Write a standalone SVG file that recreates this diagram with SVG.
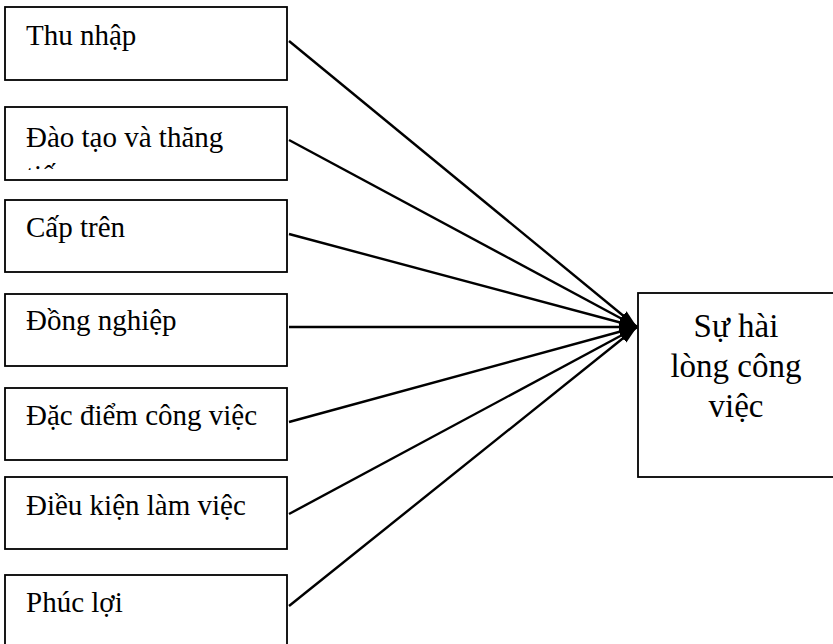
<svg xmlns="http://www.w3.org/2000/svg" width="833" height="644" viewBox="0 0 833 644">
<style>
.box{fill:#fff;stroke:#000;stroke-width:1.8}
.lbl{font-size:29px;fill:#000}
.big{font-size:33px;fill:#000;text-anchor:middle}
.edge{stroke:#000;stroke-width:2.4;fill:none;marker-end:url(#arr)}
</style>
<defs>
<marker id="arr" markerUnits="userSpaceOnUse" markerWidth="18" markerHeight="14" viewBox="0 0 18 14" refX="18" refY="7" orient="auto">
<path d="M0,1.5 L18,7 L0,12.5 Z" fill="#000"/>
</marker>
<clipPath id="clip2"><rect x="5" y="107" width="282" height="63"/></clipPath>
</defs>
<rect width="833" height="644" fill="#fff"/>
<g font-family="Liberation Serif, DejaVu Serif, serif">
<g id="n1"><rect class="box" x="5" y="7" width="282" height="73"/><text class="lbl" x="26" y="45">Thu nhập</text></g>
<g id="n2"><rect class="box" x="5" y="107" width="282" height="73"/><g clip-path="url(#clip2)"><text class="lbl" x="26" y="147">Đào tạo và thăng</text><text class="lbl" x="26" y="185">tiến</text></g></g>
<g id="n3"><rect class="box" x="5" y="200" width="282" height="72"/><text class="lbl" x="26" y="237">Cấp trên</text></g>
<g id="n4"><rect class="box" x="5" y="294" width="282" height="72"/><text class="lbl" x="26" y="330">Đồng nghiệp</text></g>
<g id="n5"><rect class="box" x="5" y="388" width="282" height="72"/><text class="lbl" x="26" y="425">Đặc điểm công việc</text></g>
<g id="n6"><rect class="box" x="5" y="477" width="282" height="72"/><text class="lbl" x="26" y="515">Điều kiện làm việc</text></g>
<g id="n7"><rect class="box" x="5" y="575" width="282" height="90"/><text class="lbl" x="26" y="612">Phúc lợi</text></g>
<g id="target"><rect class="box" x="638" y="293" width="210" height="184"/><text class="big" x="736" y="337">Sự hài</text><text class="big" x="736" y="377">lòng công</text><text class="big" x="736" y="417">việc</text></g>
</g>
<g id="connectors">
<line class="edge" x1="289" y1="41" x2="637" y2="327"/>
<line class="edge" x1="289" y1="140" x2="637" y2="327"/>
<line class="edge" x1="289" y1="234" x2="637" y2="327"/>
<line class="edge" x1="289" y1="327" x2="637" y2="327"/>
<line class="edge" x1="289" y1="422" x2="637" y2="327"/>
<line class="edge" x1="289" y1="514" x2="637" y2="327"/>
<line class="edge" x1="289" y1="606" x2="637" y2="327"/>
</g>
</svg>
